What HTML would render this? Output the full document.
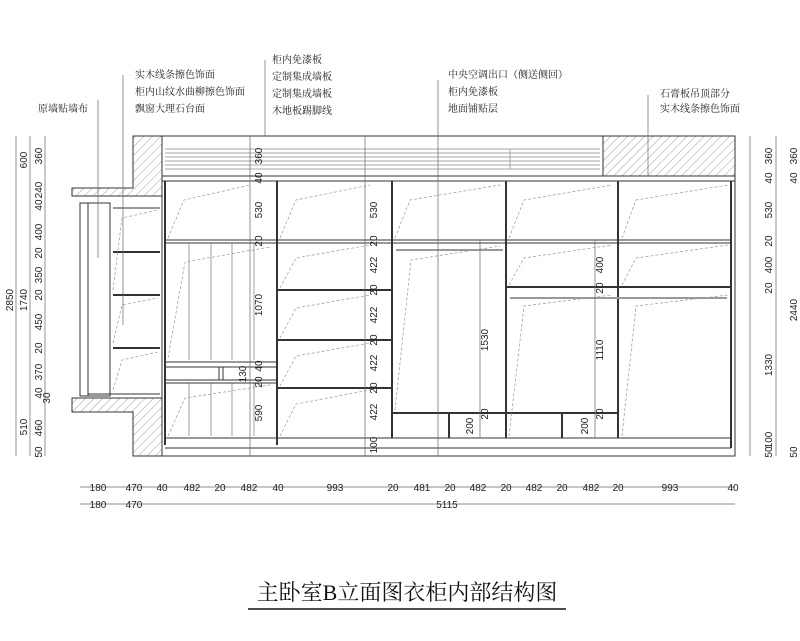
<!DOCTYPE html>
<html><head><meta charset="utf-8"><style>
html,body{margin:0;padding:0;background:#fff;}
svg{display:block;font-family:"Liberation Sans","Noto Sans CJK SC",sans-serif;}
.t{font-size:10px;fill:#222;}
.c{font-size:10px;fill:#222;font-family:"Liberation Serif","Noto Serif CJK SC",serif;}
</style></head><body>
<svg width="800" height="641" viewBox="0 0 800 641" xmlns="http://www.w3.org/2000/svg">
<defs>
<pattern id="h" width="6" height="6" patternUnits="userSpaceOnUse" patternTransform="rotate(45)"><line x1="0" y1="0" x2="0" y2="6" stroke="#777" stroke-width="0.7"/></pattern>
</defs>
<g stroke="#333" fill="none" stroke-width="1">
<!-- walls -->
<path d="M133 136 L162 136 L162 196 L72 196 L72 188 L133 188 Z" fill="url(#h)"/>
<path d="M72 398 L162 398 L162 456 L133 456 L133 412 L72 412 Z" fill="url(#h)"/>
<rect x="603" y="136" width="132" height="40" fill="url(#h)"/>
<!-- soffit -->
<rect x="162" y="136" width="573" height="320"/>
<line x1="162" y1="176" x2="735" y2="176"/>
<line x1="162" y1="181" x2="735" y2="181"/>
<g stroke="#888" stroke-width="0.7">
<line x1="165" y1="149" x2="600" y2="149"/><line x1="165" y1="153" x2="600" y2="153"/>
<line x1="165" y1="157" x2="600" y2="157"/><line x1="165" y1="161" x2="600" y2="161"/>
<line x1="165" y1="165" x2="600" y2="165"/><line x1="165" y1="169" x2="600" y2="169"/>
<line x1="510" y1="149" x2="510" y2="169"/>
</g>
<!-- window -->
<rect x="80" y="203" width="8" height="193"/>
<rect x="88" y="203" width="22" height="193"/>
<line x1="110" y1="203" x2="110" y2="396"/>
<line x1="113" y1="208" x2="160" y2="208"/>
<g stroke-width="2"><line x1="113" y1="252" x2="160" y2="252"/><line x1="113" y1="295" x2="160" y2="295"/><line x1="113" y1="348" x2="160" y2="348"/></g>
<line x1="88" y1="394" x2="160" y2="394"/>
<!-- dividers -->
<g stroke-width="2">
<line x1="165" y1="181" x2="165" y2="445"/>
<line x1="277" y1="181" x2="277" y2="445"/>
<line x1="392" y1="181" x2="392" y2="438"/>
<line x1="506" y1="181" x2="506" y2="438"/>
<line x1="618" y1="181" x2="618" y2="438"/>
<line x1="731" y1="181" x2="731" y2="448"/>
</g>
<line x1="165" y1="240" x2="731" y2="240"/><line x1="165" y1="243" x2="731" y2="243"/>
<line x1="165" y1="438" x2="731" y2="438"/><line x1="165" y1="448" x2="731" y2="448"/>
<!-- col1 -->
<g stroke="#777" stroke-width="0.7"><line x1="189" y1="243" x2="189" y2="360"/><line x1="211" y1="243" x2="211" y2="360"/><line x1="232" y1="243" x2="232" y2="360"/><line x1="254" y1="243" x2="254" y2="360"/>
<line x1="189" y1="383" x2="189" y2="436"/><line x1="211" y1="383" x2="211" y2="436"/><line x1="232" y1="383" x2="232" y2="436"/><line x1="254" y1="383" x2="254" y2="436"/></g>
<line x1="165" y1="362" x2="277" y2="362"/><line x1="165" y1="367" x2="277" y2="367"/>
<line x1="165" y1="380" x2="277" y2="380"/><line x1="165" y1="383" x2="277" y2="383"/>
<rect x="219" y="367" width="4" height="13"/>
<!-- col2 shelves -->
<g stroke-width="2"><line x1="277" y1="290" x2="392" y2="290"/><line x1="277" y1="340" x2="392" y2="340"/><line x1="277" y1="388" x2="392" y2="388"/></g>
<!-- col3 -->
<line x1="396" y1="250" x2="503" y2="250" stroke-width="2" stroke="#999"/>
<line x1="392" y1="413" x2="506" y2="413" stroke-width="2"/>
<line x1="449" y1="413" x2="449" y2="438" stroke-width="2"/>
<!-- col4/5 -->
<line x1="506" y1="287" x2="731" y2="287" stroke-width="2"/>
<line x1="510" y1="298" x2="727" y2="298" stroke-width="2" stroke="#999"/>
<line x1="506" y1="413" x2="618" y2="413" stroke-width="2"/>
<line x1="562" y1="413" x2="562" y2="438" stroke-width="2"/>
<!-- dashed hangers -->
<g stroke="#999" stroke-dasharray="3,2" stroke-width="0.7">
<path d="M168 238 L184 200 L250 185"/><path d="M280 238 L296 200 L370 185"/><path d="M395 238 L410 200 L500 185"/><path d="M509 238 L524 200 L612 185"/><path d="M622 238 L636 200 L728 185"/>
<path d="M168 358 L185 262 L270 247"/><path d="M280 288 L296 258 L370 245"/><path d="M280 338 L296 308 L370 295"/><path d="M280 386 L296 356 L370 343"/><path d="M280 436 L296 404 L370 390"/>
<path d="M395 410 L411 260 L500 246"/><path d="M509 285 L524 258 L612 245"/><path d="M622 285 L636 258 L728 245"/>
<path d="M509 436 L524 306 L612 295"/><path d="M622 436 L636 306 L728 295"/>
<path d="M168 436 L185 398 L270 385"/><path d="M113 290 L122 218 L158 210"/><path d="M113 343 L122 305 L158 298"/><path d="M113 390 L122 360 L158 352"/>
</g>
</g>
<!-- dim lines -->
<g stroke="#666" stroke-width="0.7">
<line x1="16" y1="136" x2="16" y2="456"/><line x1="30" y1="136" x2="30" y2="456"/><line x1="45" y1="136" x2="45" y2="456"/>
<line x1="750" y1="136" x2="750" y2="456"/><line x1="776" y1="136" x2="776" y2="456"/>
<line x1="250" y1="136" x2="250" y2="456"/><line x1="365" y1="136" x2="365" y2="456"/><line x1="480" y1="240" x2="480" y2="438"/><line x1="595" y1="240" x2="595" y2="438"/>
<line x1="80" y1="487" x2="735" y2="487"/><line x1="80" y1="504" x2="735" y2="504"/>
<line x1="98" y1="100" x2="98" y2="258"/><line x1="123" y1="75" x2="123" y2="325"/><line x1="265" y1="60" x2="265" y2="136"/><line x1="438" y1="80" x2="438" y2="456"/><line x1="648" y1="95" x2="648" y2="176"/>
</g>
<g class="t">
<g font-size="10">
<text x="98" y="491" text-anchor="middle">180</text><text x="134" y="491" text-anchor="middle">470</text><text x="162" y="491" text-anchor="middle">40</text><text x="192" y="491" text-anchor="middle">482</text><text x="220" y="491" text-anchor="middle">20</text><text x="249" y="491" text-anchor="middle">482</text><text x="278" y="491" text-anchor="middle">40</text><text x="335" y="491" text-anchor="middle">993</text><text x="393" y="491" text-anchor="middle">20</text><text x="422" y="491" text-anchor="middle">481</text><text x="450" y="491" text-anchor="middle">20</text><text x="478" y="491" text-anchor="middle">482</text><text x="506" y="491" text-anchor="middle">20</text><text x="534" y="491" text-anchor="middle">482</text><text x="562" y="491" text-anchor="middle">20</text><text x="591" y="491" text-anchor="middle">482</text><text x="618" y="491" text-anchor="middle">20</text><text x="670" y="491" text-anchor="middle">993</text><text x="733" y="491" text-anchor="middle">40</text>
<text x="98" y="508" text-anchor="middle">180</text><text x="134" y="508" text-anchor="middle">470</text><text x="447" y="508" text-anchor="middle">5115</text>
</g>
<g font-size="10">
<text transform="translate(13,300) rotate(-90)" text-anchor="middle">2850</text>
<text transform="translate(27,160) rotate(-90)" text-anchor="middle">600</text><text transform="translate(27,300) rotate(-90)" text-anchor="middle">1740</text><text transform="translate(27,427) rotate(-90)" text-anchor="middle">510</text>
<text transform="translate(42,156) rotate(-90)" text-anchor="middle">360</text><text transform="translate(42,190) rotate(-90)" text-anchor="middle">240</text><text transform="translate(42,205) rotate(-90)" text-anchor="middle">40</text><text transform="translate(42,232) rotate(-90)" text-anchor="middle">400</text><text transform="translate(42,253) rotate(-90)" text-anchor="middle">20</text><text transform="translate(42,275) rotate(-90)" text-anchor="middle">350</text><text transform="translate(42,295) rotate(-90)" text-anchor="middle">20</text><text transform="translate(42,322) rotate(-90)" text-anchor="middle">450</text><text transform="translate(42,348) rotate(-90)" text-anchor="middle">20</text><text transform="translate(42,372) rotate(-90)" text-anchor="middle">370</text><text transform="translate(42,393) rotate(-90)" text-anchor="middle">40</text><text transform="translate(50,398) rotate(-90)" text-anchor="middle">30</text><text transform="translate(42,428) rotate(-90)" text-anchor="middle">460</text><text transform="translate(42,452) rotate(-90)" text-anchor="middle">50</text>
<text transform="translate(262,156) rotate(-90)" text-anchor="middle">360</text><text transform="translate(262,178) rotate(-90)" text-anchor="middle">40</text><text transform="translate(262,210) rotate(-90)" text-anchor="middle">530</text><text transform="translate(262,241) rotate(-90)" text-anchor="middle">20</text><text transform="translate(262,305) rotate(-90)" text-anchor="middle">1070</text><text transform="translate(262,366) rotate(-90)" text-anchor="middle">40</text><text transform="translate(246,374) rotate(-90)" text-anchor="middle">130</text><text transform="translate(262,382) rotate(-90)" text-anchor="middle">20</text><text transform="translate(262,413) rotate(-90)" text-anchor="middle">590</text>
<text transform="translate(377,210) rotate(-90)" text-anchor="middle">530</text><text transform="translate(377,241) rotate(-90)" text-anchor="middle">20</text><text transform="translate(377,265) rotate(-90)" text-anchor="middle">422</text><text transform="translate(377,315) rotate(-90)" text-anchor="middle">422</text><text transform="translate(377,363) rotate(-90)" text-anchor="middle">422</text><text transform="translate(377,412) rotate(-90)" text-anchor="middle">422</text><text transform="translate(377,445) rotate(-90)" text-anchor="middle">100</text><text transform="translate(377,290) rotate(-90)" text-anchor="middle">20</text><text transform="translate(377,340) rotate(-90)" text-anchor="middle">20</text><text transform="translate(377,388) rotate(-90)" text-anchor="middle">20</text>
<text transform="translate(488,340) rotate(-90)" text-anchor="middle">1530</text><text transform="translate(488,414) rotate(-90)" text-anchor="middle">20</text><text transform="translate(473,426) rotate(-90)" text-anchor="middle">200</text>
<text transform="translate(603,265) rotate(-90)" text-anchor="middle">400</text><text transform="translate(603,288) rotate(-90)" text-anchor="middle">20</text><text transform="translate(603,350) rotate(-90)" text-anchor="middle">1110</text><text transform="translate(603,414) rotate(-90)" text-anchor="middle">20</text><text transform="translate(588,426) rotate(-90)" text-anchor="middle">200</text>
<text transform="translate(772,156) rotate(-90)" text-anchor="middle">360</text><text transform="translate(772,178) rotate(-90)" text-anchor="middle">40</text><text transform="translate(772,210) rotate(-90)" text-anchor="middle">530</text><text transform="translate(772,241) rotate(-90)" text-anchor="middle">20</text><text transform="translate(772,265) rotate(-90)" text-anchor="middle">400</text><text transform="translate(772,288) rotate(-90)" text-anchor="middle">20</text><text transform="translate(772,365) rotate(-90)" text-anchor="middle">1330</text><text transform="translate(772,440) rotate(-90)" text-anchor="middle">100</text><text transform="translate(772,452) rotate(-90)" text-anchor="middle">50</text>
<text transform="translate(797,156) rotate(-90)" text-anchor="middle">360</text><text transform="translate(797,178) rotate(-90)" text-anchor="middle">40</text><text transform="translate(797,310) rotate(-90)" text-anchor="middle">2440</text><text transform="translate(797,452) rotate(-90)" text-anchor="middle">50</text>
</g>
</g>
<g class="c">
<text x="135" y="78">实木线条擦色饰面</text><text x="135" y="95">柜内山纹水曲柳擦色饰面</text><text x="135" y="112">飘窗大理石台面</text><text x="38" y="112">原墙贴墙布</text>
<text x="272" y="63">柜内免漆板</text><text x="272" y="80">定制集成墙板</text><text x="272" y="97">定制集成墙板</text><text x="272" y="114">木地板踢脚线</text>
<text x="448" y="78">中央空调出口（侧送侧回）</text><text x="448" y="95">柜内免漆板</text><text x="448" y="112">地面铺贴层</text>
<text x="660" y="97">石膏板吊顶部分</text><text x="660" y="112">实木线条擦色饰面</text>
</g>
<text x="407" y="600" text-anchor="middle" font-size="22" font-family="Liberation Serif,Noto Serif CJK SC,serif" fill="#111">主卧室B立面图衣柜内部结构图</text>
<line x1="248" y1="609" x2="566" y2="609" stroke="#111" stroke-width="1.5"/>
</svg>
</body></html>
